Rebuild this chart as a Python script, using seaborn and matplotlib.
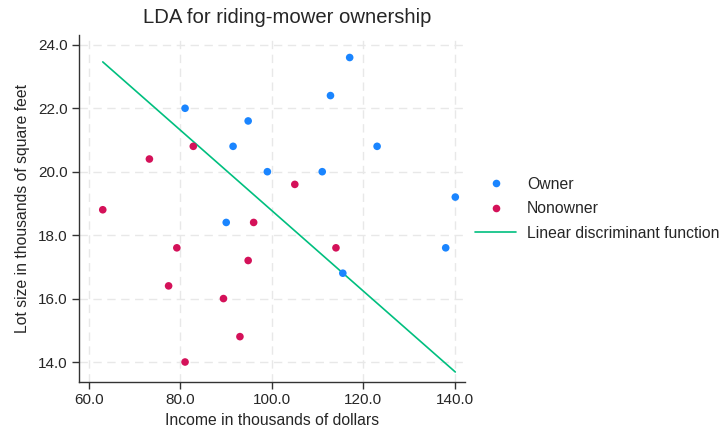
import numpy as np
import pandas as pd
import matplotlib
matplotlib.use("Agg")
import matplotlib.pyplot as plt
import seaborn as sns

# riding-mower data (income in $1000s, lot size in 1000 sq ft)
owner_income = [90.0, 115.5, 94.8, 91.5, 117.0, 140.1, 138.0, 112.8, 99.0, 123.0, 81.0, 111.0]
owner_lotsize = [18.4, 16.8, 21.6, 20.8, 23.6, 19.2, 17.6, 22.4, 20.0, 20.8, 22.0, 20.0]
nonowner_income = [105.0, 82.8, 94.8, 73.2, 114.0, 79.2, 89.4, 96.0, 77.4, 63.0, 81.0, 93.0]
nonowner_lotsize = [19.6, 20.8, 17.2, 20.4, 17.6, 17.6, 16.0, 18.4, 16.4, 18.8, 14.0, 14.8]

# linear discriminant function: lotsize = intercept + slope * income
lda_intercept = 31.45
lda_slope = -0.1268

x_ticks = [60, 80, 100, 120, 140]
y_ticks = [14, 16, 18, 20, 22, 24]

df = pd.DataFrame({
    "income": owner_income + nonowner_income,
    "lotsize": owner_lotsize + nonowner_lotsize,
    "group": ["Owner"] * len(owner_income) + ["Nonowner"] * len(nonowner_income),
})
xs = np.array([df["income"].min(), df["income"].max()])
line_df = pd.DataFrame({"income": xs, "lotsize": lda_intercept + lda_slope * xs})

sns.set_style("white")
plt.rcParams["font.family"] = ["Liberation Sans", "DejaVu Sans"]

fig = plt.figure(figsize=(7.2, 4.28), dpi=100)
ax = fig.add_axes([0.1097, 0.1075, 0.536, 0.81])

palette = {"Owner": "#1a85ff", "Nonowner": "#d41159"}
sns.scatterplot(data=df, x="income", y="lotsize", hue="group", palette=palette,
                s=30, edgecolor="none", ax=ax, zorder=3)
sns.lineplot(data=line_df, x="income", y="lotsize", color="#00bf7f", lw=1.2,
             ax=ax, label="Linear discriminant function", zorder=2)

ax.set_xlim(57.8, 142.2)
ax.set_ylim(13.37, 24.3)
ax.set_xticks(x_ticks)
ax.set_yticks(y_ticks)
ax.set_xticklabels([f"{v:.1f}" for v in x_ticks], fontsize=11)
ax.set_yticklabels([f"{v:.1f}" for v in y_ticks], fontsize=11)
ax.tick_params(axis="both", direction="out", length=5, width=1, color="#333333",
               left=True, bottom=True, pad=3)
ax.grid(True, color="#e8e8e8", linestyle=(0, (6, 4)), lw=1)
for s in ["top", "right"]:
    ax.spines[s].set_visible(False)
for s in ["left", "bottom"]:
    ax.spines[s].set_color("#333333")
    ax.spines[s].set_linewidth(1)

ax.set_xlabel("Income in thousands of dollars", fontsize=11.3)
ax.set_ylabel("Lot size in thousands of square feet", fontsize=11.3, labelpad=6)
ax.set_title("LDA for riding-mower ownership", fontsize=14.6, x=0.54, pad=9)

handles, labels = ax.get_legend_handles_labels()
ax.legend(handles, labels, loc="center left", bbox_to_anchor=(0.99, 0.5),
          frameon=False, fontsize=11.3, handlelength=2.6, labelspacing=0.6,
          handletextpad=0.7)

fig.savefig("out.png", dpi=100)
